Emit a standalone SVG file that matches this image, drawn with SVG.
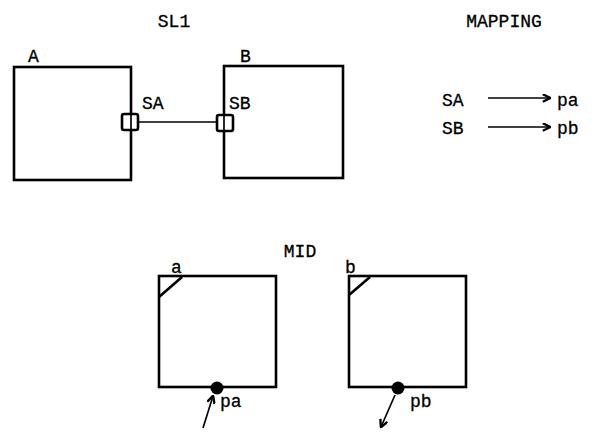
<svg xmlns="http://www.w3.org/2000/svg" width="603" height="433" viewBox="0 0 603 433">
<defs>
<style>
.t{font-family:"Liberation Mono","DejaVu Sans Mono",monospace;font-size:18px;fill:#000;stroke:#000;stroke-width:0.3}
.box{fill:none;stroke:#000;stroke-width:2.6}
.port{fill:#fff;stroke:#000;stroke-width:2.6}
.ln{fill:none;stroke:#000;stroke-width:1.7}
</style>
<marker id="ah" viewBox="0 0 10 10" refX="9" refY="5" markerWidth="9" markerHeight="9" markerUnits="userSpaceOnUse" orient="auto">
<path d="M1,0.8 L9.5,5 L1,9.2" fill="none" stroke="#000" stroke-width="2.6"/>
</marker>
</defs>
<rect width="603" height="433" fill="#fff"/>
<text class="t" x="174" y="27" text-anchor="middle">SL1</text>
<text class="t" x="504" y="27" text-anchor="middle">MAPPING</text>
<text class="t" x="300" y="257" text-anchor="middle">MID</text>
<g id="nodeA">
<rect class="box" x="14" y="67" width="117" height="113"/>
<text class="t" x="28" y="62">A</text>
</g>
<g id="nodeB">
<rect class="box" x="224" y="66" width="119" height="112"/>
<text class="t" x="240" y="62">B</text>
</g>
<g id="portSA">
<rect class="port" x="122" y="114" width="16" height="16" rx="2"/>
<line class="ln" x1="131" y1="114" x2="131" y2="130" stroke-width="1"/>
<text class="t" x="142" y="109">SA</text>
</g>
<g id="portSB">
<rect class="port" x="217" y="115" width="16" height="16" rx="2"/>
<line class="ln" x1="224" y1="115" x2="224" y2="131" stroke-width="1"/>
<text class="t" x="229" y="109">SB</text>
</g>
<g id="mapping">
<text class="t" x="442" y="106">SA</text>
<text class="t" x="557" y="106">pa</text>
<text class="t" x="442" y="134">SB</text>
<text class="t" x="557" y="134">pb</text>
</g>
<g id="nodea">
<rect class="box" x="159" y="276" width="117" height="111"/>
<line class="box" x1="159" y1="297" x2="182" y2="277"/>
<text class="t" x="171" y="273">a</text>
</g>
<g id="nodeb">
<rect class="box" x="349" y="276" width="117" height="111"/>
<line class="box" x1="349" y1="295" x2="370" y2="277"/>
<text class="t" x="345" y="273">b</text>
</g>
<g id="porta">
<circle cx="217" cy="388" r="6.5" fill="#000"/>
<text class="t" x="220" y="407">pa</text>
</g>
<g id="portb">
<circle cx="398" cy="388" r="6.5" fill="#000"/>
<text class="t" x="410" y="407">pb</text>
</g>
<g id="connectors">
<line class="ln" x1="138" y1="122" x2="217" y2="122"/>
<line class="ln" x1="488" y1="98" x2="550" y2="98" marker-end="url(#ah)"/>
<line class="ln" x1="488" y1="127" x2="550" y2="127" marker-end="url(#ah)"/>
<line class="ln" x1="203" y1="428" x2="213" y2="396" marker-end="url(#ah)"/>
<line class="ln" x1="395" y1="395" x2="381" y2="427" marker-end="url(#ah)"/>
</g>
</svg>
